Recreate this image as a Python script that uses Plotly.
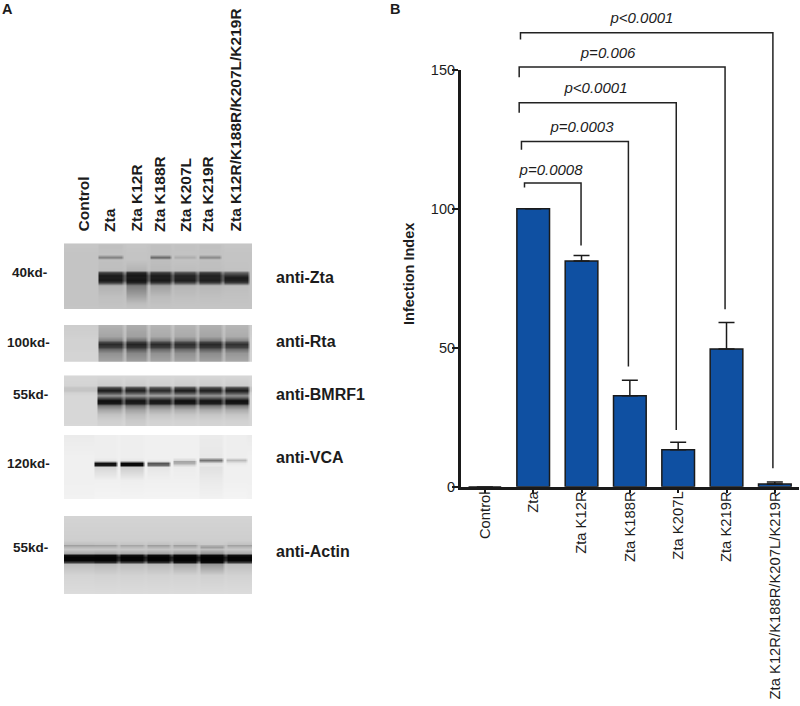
import plotly.graph_objects as go

W, H = 800, 706

# ---- panel B data
categories = ["Control", "Zta", "Zta K12R", "Zta K188R", "Zta K207L", "Zta K219R",
              "Zta K12R/K188R/K207L/K219R"]
infection_index = [0, 100, 81.2, 32.7, 13.3, 49.5, 1.0]
infection_error = [0, 0, 2.0, 5.6, 2.7, 9.6, 0.7]
y_ticks = [0, 50, 100, 150]

p_labels = ["p=0.0008", "p=0.0003", "p<0.0001", "p=0.006", "p<0.0001"]
p_label_x = [1.37, 2.01, 2.30, 2.55, 3.25]
p_label_y = [113.5, 128.8, 143, 155.5, 168]
bracket_left = [0.82, 0.757, 0.71, 0.71, 0.737]
bracket_right = [1.99, 2.97, 3.96, 4.97, 5.96]
bracket_top = [109.2, 124.2, 138.1, 151.0, 163.3]
bracket_left_end = [107.6, 121.2, 134.5, 147.3, 160.9]
bracket_right_end = [86.8, 43.2, 20.4, 63.8, 6.6]

# ---- panel A data: gel image read as rows of [gap grey, lane greys...]
zta_edges = [66, 96, 124, 148, 172, 197, 222, 250]
rta_edges = [66, 96, 124, 148, 172, 197, 223, 250]
bmrf1_edges = [66, 95, 123, 147, 172, 197, 223, 250]
vca_edges = [66, 92, 118, 145, 171, 197, 224, 248]
actin_edges = [64, 92, 118, 145, 171, 198, 225, 252]

zta_y = [243.3, 245, 254.5, 257, 259.5, 270, 272, 275, 277.5, 280, 282, 285, 296, 303, 309]
zta_rows = [
    [198, 198, 198, 198, 198, 198, 198, 198],
    [196, 198, 192, 198, 192, 194, 192, 198],
    [195, 196, 194, 196, 192, 195, 194, 196],
    [195, 196, 125, 196, 100, 172, 135, 196],
    [195, 196, 192, 196, 190, 195, 192, 196],
    [192, 196, 190, 180, 186, 190, 190, 194],
    [130, 196, 65, 40, 60, 78, 62, 100],
    [85, 196, 28, 22, 28, 36, 32, 50],
    [85, 196, 32, 28, 32, 38, 36, 28],
    [85, 196, 25, 20, 25, 30, 30, 32],
    [130, 196, 60, 36, 55, 70, 60, 60],
    [188, 196, 178, 125, 160, 182, 184, 190],
    [194, 196, 192, 165, 188, 192, 192, 194],
    [196, 196, 194, 190, 194, 196, 196, 196],
    [198, 198, 198, 198, 198, 198, 198, 198],
]
rta_y = [325, 336, 340, 342, 344, 346.5, 349, 353, 361.7]
rta_rows = [
    [195, 205, 178, 172, 180, 180, 176, 182],
    [190, 208, 165, 160, 170, 170, 165, 172],
    [180, 210, 130, 115, 130, 130, 125, 135],
    [140, 210, 70, 60, 72, 72, 65, 78],
    [120, 210, 42, 35, 42, 46, 40, 48],
    [130, 210, 62, 52, 62, 62, 56, 66],
    [165, 210, 105, 90, 105, 105, 95, 110],
    [180, 212, 145, 135, 145, 145, 140, 150],
    [188, 212, 168, 162, 168, 168, 165, 170],
]
bmrf1_y = [375.3, 385, 387.5, 390, 392.5, 395, 397.5, 400, 403, 405.5, 409, 414, 420, 426]
bmrf1_rows = [
    [215, 215, 215, 215, 215, 215, 215, 215],
    [212, 212, 205, 205, 208, 205, 205, 205],
    [170, 198, 75, 75, 85, 75, 75, 75],
    [120, 196, 25, 30, 40, 25, 30, 25],
    [140, 210, 70, 75, 85, 70, 70, 70],
    [170, 215, 150, 155, 165, 155, 150, 145],
    [130, 215, 90, 95, 100, 90, 100, 100],
    [90, 215, 15, 20, 22, 15, 20, 15],
    [90, 215, 25, 30, 30, 25, 30, 25],
    [165, 215, 120, 115, 125, 120, 120, 120],
    [190, 215, 165, 160, 170, 170, 170, 170],
    [205, 215, 195, 188, 198, 198, 198, 198],
    [212, 215, 208, 202, 210, 210, 210, 210],
    [215, 216, 212, 208, 213, 213, 213, 213],
]
vca_y = [435, 456.5, 458, 459.5, 461, 462.8, 464.5, 466.5, 480, 499]
vca_rows = [
    [240, 235, 238, 238, 240, 240, 235, 238],
    [240, 240, 238, 238, 240, 240, 232, 238],
    [240, 240, 236, 236, 240, 232, 190, 225],
    [240, 240, 232, 232, 236, 215, 115, 185],
    [240, 240, 190, 180, 220, 165, 150, 205],
    [240, 240, 15, 5, 85, 175, 225, 232],
    [240, 240, 25, 10, 110, 215, 232, 238],
    [240, 240, 215, 205, 230, 236, 225, 240],
    [240, 240, 240, 238, 240, 240, 234, 240],
    [244, 242, 244, 244, 244, 244, 242, 244],
]
actin_y = [516, 540, 543.5, 545, 546.5, 549, 552.5, 554.5, 557, 560, 561.5, 563.5, 575, 594.3]
actin_rows = [
    [212, 212, 212, 212, 212, 212, 212, 212],
    [206, 206, 206, 206, 206, 206, 206, 206],
    [200, 192, 194, 196, 194, 194, 202, 194],
    [190, 160, 162, 166, 158, 158, 178, 162],
    [195, 185, 185, 186, 180, 180, 158, 184],
    [200, 200, 200, 200, 198, 198, 192, 200],
    [180, 170, 165, 170, 165, 160, 150, 170],
    [70, 15, 10, 15, 12, 10, 10, 15],
    [30, 3, 3, 3, 3, 3, 3, 3],
    [40, 5, 3, 5, 3, 3, 3, 5],
    [110, 60, 40, 55, 40, 20, 10, 55],
    [195, 190, 185, 190, 185, 170, 150, 190],
    [212, 212, 210, 210, 210, 210, 208, 210],
    [220, 220, 220, 220, 220, 220, 220, 220],
]
antibodies = ["anti-Zta", "anti-Rta", "anti-BMRF1", "anti-VCA", "anti-Actin"]
antibody_y = [277, 341, 394, 457, 551]
size_markers = ["40kd-", "100kd-", "55kd-", "120kd-", "55kd-"]
size_marker_x = [29, 28, 30, 28, 30]
size_marker_y = [272, 342, 394, 463, 547]
lane_label_x = [83, 109, 136, 159, 185, 207, 235]

TEXT = "#1c1c1c"
BLUE = "#0f50a2"
LINE = "#1a1a1a"
FONT = "Liberation Sans, Arial, sans-serif"


def px(x):
    return x / W


def py(y):
    return 1 - y / H


def lane_nodes(edges):
    xs = [63]
    for a, b in zip(edges[:-1], edges[1:]):
        xs += [a + 0.5, a + 3, b - 3, b - 0.5]
    xs.append(253)
    return xs


def expand(row):
    gap, lanes = row[0], row[1:]
    bg = lanes[0]
    out = [bg]
    for i, v in enumerate(lanes):
        left = bg if i <= 1 else gap
        right = bg if i in (0, 6) else gap
        out += [left, v, v, right]
    out.append(bg)
    return out


fig = go.Figure()

# Panel A gels
panels = [(zta_y, zta_rows, zta_edges), (rta_y, rta_rows, rta_edges), (bmrf1_y, bmrf1_rows, bmrf1_edges),
          (vca_y, vca_rows, vca_edges), (actin_y, actin_rows, actin_edges)]
for k, (ys, rows, edges) in enumerate(panels):
    n = k + 2
    fig.add_heatmap(x=lane_nodes(edges), y=ys, z=[expand(r) for r in rows],
                    xaxis=f"x{n}", yaxis=f"y{n}", zmin=0, zmax=255, zsmooth="best",
                    colorscale=[[0, "#000000"], [1, "#ffffff"]], showscale=False, hoverinfo="skip")
    fig.layout[f"xaxis{n}"] = dict(domain=[px(64), px(252)], range=[64, 252], visible=False, anchor=f"y{n}")
    fig.layout[f"yaxis{n}"] = dict(domain=[py(ys[-1]), py(ys[0])], range=[ys[-1], ys[0]], visible=False,
                                   anchor=f"x{n}")

# Panel B: bars first on the true axes
fig.add_bar(x=list(range(7)), y=infection_index, width=0.676,
            marker=dict(color=BLUE, line=dict(color=LINE, width=1.5)),
            error_y=dict(type="data", symmetric=False, array=infection_error,
                         arrayminus=[0] * 7, color=LINE, thickness=1.5, width=8),
            showlegend=False)
# second y scale: same units as the y axis, carried up to the top of the page
for i in range(5):
    fig.add_scatter(x=[bracket_left[i], bracket_left[i], bracket_right[i], bracket_right[i]],
                    y=[bracket_left_end[i], bracket_top[i], bracket_top[i], bracket_right_end[i]],
                    yaxis="y7", mode="lines", line=dict(color="#222222", width=1.5), showlegend=False,
                    hoverinfo="skip")
fig.add_scatter(x=p_label_x, y=p_label_y, yaxis="y7", mode="text",
                text=[f"<i>{t}</i>" for t in p_labels],
                textfont=dict(family=FONT, size=15, color=TEXT), showlegend=False, hoverinfo="skip")

# page-wide hidden axes that carry the text labels
fig.add_scatter(x=[0, W], y=[0, H], xaxis="x8", yaxis="y8", mode="markers", marker=dict(opacity=0),
                showlegend=False, hoverinfo="skip")

ann = []


def text(x, y, s, size, bold=True, angle=0, xa="center", ya="middle", color=TEXT):
    ann.append(dict(x=x, y=y, xref="x8", yref="y8", text=f"<b>{s}</b>" if bold else s,
                    showarrow=False, textangle=angle, xanchor=xa, yanchor=ya,
                    font=dict(family=FONT, size=size, color=color)))


text(7, 9, "A", 14.5)
text(395, 9, "B", 14.5)
text(409, 274, "Infection Index", 14.5, angle=-90)
for x, s in zip(lane_label_x, categories):
    text(x, 234, s, 15.5, angle=-90, ya="bottom")
for s, y in zip(antibodies, antibody_y):
    text(273.5, y, s, 16, xa="left")
for s, x, y in zip(size_markers, size_marker_x, size_marker_y):
    text(x, y, s, 13.5)

fig.update_layout(
    template="none",
    width=W, height=H, autosize=False,
    margin=dict(l=0, r=0, t=0, b=0, pad=0),
    paper_bgcolor="white", plot_bgcolor="rgba(0,0,0,0)", showlegend=False,
    font=dict(family=FONT, color=TEXT),
    annotations=ann,
    xaxis=dict(domain=[px(460.7), px(799)], range=[-0.5, 6.5], tickmode="array",
               tickvals=list(range(7)), ticktext=categories, tickangle=-90,
               ticks="outside", ticklen=4, tickwidth=1.5, tickcolor=LINE,
               showline=True, linewidth=2.5, linecolor=LINE, showgrid=False, zeroline=False,
               automargin=False, anchor="y",
               tickfont=dict(family=FONT, size=14.8, color=TEXT), ticklabelstandoff=-8),
    yaxis=dict(domain=[py(486.7), py(69.7)], range=[0, 150], tickmode="array",
               tickvals=y_ticks, ticks="outside", ticklen=6, tickwidth=2, tickcolor=LINE,
               showline=True, linewidth=2.5, linecolor=LINE, showgrid=False, zeroline=False,
               automargin=False, anchor="x",
               tickfont=dict(family=FONT, size=14.5, color=TEXT), ticklabelstandoff=-6),
    yaxis7=dict(domain=[py(486.7), 1], range=[0, 486.7 / 2.78], visible=False, anchor="x"),
    xaxis8=dict(domain=[0, 1], range=[0, W], visible=False, anchor="y8"),
    yaxis8=dict(domain=[0, 1], range=[H, 0], visible=False, anchor="x8"),
)

fig.write_html("out.html", config=dict(displayModeBar=False), post_script="document.body.style.margin='0';")
